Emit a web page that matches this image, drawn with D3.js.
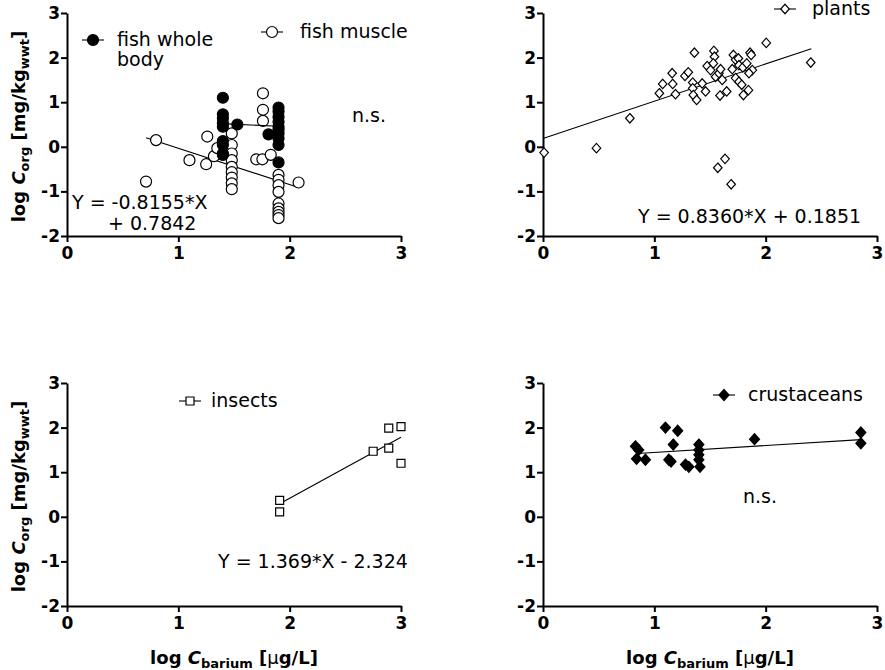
<!DOCTYPE html>
<html>
<head>
<meta charset="utf-8">
<script src="https://cdn.jsdelivr.net/npm/d3@7"></script>
<style>
  body { margin: 0; background: #fff; }
  svg { display: block; font-family: "DejaVu Sans", Verdana, sans-serif; }
</style>
</head>
<body>
<div id="chart"></div>
<script>
// ticks shared by all four panels
var xTicks = [0, 1, 2, 3];
var yTicks = [-2, -1, 0, 1, 2, 3];

// fish whole body (filled circles), [log Cbarium, log Corg]
var fishWhole = [
  [1.40, 1.10], [1.40, 0.73], [1.40, 0.64], [1.40, 0.53], [1.40, 0.45],
  [1.40, 0.13], [1.40, 0.04], [1.40, -0.15], [1.40, -0.18], [1.53, 0.50],
  [1.81, 0.28], [1.90, 0.88], [1.90, 0.79], [1.90, 0.67], [1.90, 0.56],
  [1.90, 0.45], [1.90, 0.38], [1.90, 0.30], [1.90, 0.19], [1.90, 0.04],
  [1.90, -0.35]
];
var fishWholeFit = [[1.40, 0.52], [1.90, 0.46]];

// fish muscle (open circles)
var fishMuscle = [
  [0.71, -0.78], [0.80, 0.15], [1.10, -0.30], [1.25, -0.39], [1.26, 0.23],
  [1.32, -0.21], [1.35, -0.03], [1.48, 0.30], [1.48, 0.04], [1.48, -0.15],
  [1.48, -0.30], [1.48, -0.45], [1.48, -0.57], [1.48, -0.69], [1.48, -0.82],
  [1.48, -0.95], [1.76, 1.20], [1.76, 0.83], [1.76, 0.58], [1.70, -0.28],
  [1.755, -0.28], [1.83, -0.18], [1.90, -0.63], [1.90, -0.74], [1.90, -0.86],
  [1.90, -1.01], [1.90, -1.27], [1.90, -1.38], [1.90, -1.46], [1.90, -1.53],
  [1.90, -1.60], [2.08, -0.80]
];
var fishMuscleFit = [[0.71, 0.205], [2.08, -0.912]];

// plants (open diamonds)
var plants = [
  [0.01, -0.13], [0.48, -0.03], [0.78, 0.64], [1.045, 1.20], [1.075, 1.41],
  [1.16, 1.65], [1.165, 1.41], [1.19, 1.18], [1.275, 1.59], [1.305, 1.67],
  [1.36, 2.11], [1.345, 1.44], [1.345, 1.31], [1.35, 1.16], [1.38, 1.05],
  [1.43, 1.42], [1.46, 1.24], [1.475, 1.81], [1.505, 1.72], [1.535, 2.15],
  [1.54, 2.02], [1.53, 1.87], [1.55, 1.57], [1.58, 1.65], [1.595, 1.74],
  [1.61, 1.50], [1.59, 1.15], [1.65, 1.24], [1.635, -0.27], [1.57, -0.47],
  [1.69, -0.84], [1.71, 2.06], [1.70, 1.74], [1.73, 1.95], [1.755, 1.98],
  [1.76, 1.83], [1.73, 1.54], [1.76, 1.46], [1.785, 1.39], [1.80, 1.16],
  [1.845, 1.27], [1.795, 1.78], [1.83, 1.87], [1.86, 2.11], [1.87, 2.06],
  [1.88, 1.72], [1.85, 1.65], [2.005, 2.33], [2.405, 1.89]
];
var plantsFit = [[0, 0.1851], [2.41, 2.2]];

// insects (open squares)
var insects = [
  [1.91, 0.37], [1.91, 0.11], [2.75, 1.47], [2.89, 1.54], [2.89, 1.99],
  [3.0, 2.02], [3.0, 1.20]
];
var insectsFit = [[1.91, 0.291], [3.0, 1.783]];

// crustaceans (filled diamonds)
var crustaceans = [
  [0.83, 1.58], [0.86, 1.50], [0.84, 1.30], [0.92, 1.28], [1.10, 2.00],
  [1.21, 1.93], [1.17, 1.62], [1.13, 1.28], [1.15, 1.24], [1.28, 1.17],
  [1.31, 1.12], [1.40, 1.62], [1.40, 1.50], [1.40, 1.39], [1.40, 1.28],
  [1.41, 1.12], [1.90, 1.74], [2.855, 1.89], [2.855, 1.65]
];
var crustaceansFit = [[0.85, 1.42], [2.855, 1.73]];

var W = 885, H = 670;
var svg = d3.select("#chart").append("svg").attr("width", W).attr("height", H);

var cols = [67, 543], rows = [13, 383];
var pw = 334, ph = 223;
var fmt = function (d) { return String(d); };

function drawMarker(g, shape, filled, r) {
  var fill = filled ? "#000" : "#fff";
  if (shape === "circle") {
    return g.append("circle").attr("r", r).attr("fill", fill);
  }
  var s = shape === "diamond" ? d3.symbolDiamond2 : d3.symbolSquare2;
  return g.append("path").attr("d", d3.symbol(s, r * r * 4)()).attr("fill", fill)
    .attr("transform", shape === "diamond" ? "scale(0.95,1.05)" : null);
}

function panel(col, row, series, opts) {
  var x0 = cols[col], y0 = rows[row];
  var x = d3.scaleLinear().domain([0, 3]).range([x0, x0 + pw]);
  var y = d3.scaleLinear().domain([-2, 3]).range([y0 + ph, y0]);
  var g = svg.append("g");

  // axes
  var ax = g.append("g").attr("transform", "translate(0," + (y0 + ph) + ")")
    .call(d3.axisBottom(x).tickValues(xTicks).tickFormat(fmt).tickSize(6).tickSizeOuter(0).tickPadding(5));
  var ay = g.append("g").attr("transform", "translate(" + x0 + ",0)")
    .call(d3.axisLeft(y).tickValues(yTicks).tickFormat(fmt).tickSize(6).tickSizeOuter(0).tickPadding(1));
  [ax, ay].forEach(function (a) {
    a.select(".domain").attr("stroke", "#000").attr("stroke-width", 2);
    a.selectAll(".tick line").attr("stroke", "#000").attr("stroke-width", 2);
    a.selectAll(".tick text").attr("fill", "#000")
      .style("font-family", "DejaVu Sans").style("font-weight", "bold").style("font-size", "17px");
  });

  series.forEach(function (s) {
    // regression line
    g.append("path")
      .datum(s.fit)
      .attr("fill", "none").attr("stroke", "#000").attr("stroke-width", 1.1)
      .attr("d", d3.line().x(function (d) { return x(d[0]); }).y(function (d) { return y(d[1]); }));
    // points
    s.data.forEach(function (d) {
      var m = g.append("g").attr("transform", "translate(" + x(d[0]) + "," + y(d[1]) + ")");
      drawMarker(m, s.shape, s.filled, s.r).attr("stroke", "#000").attr("stroke-width", 1.2);
    });
    // legend entry
    var lg = svg.append("g").attr("transform", "translate(" + s.legend[0] + "," + s.legend[1] + ")");
    lg.append("line").attr("x1", -11).attr("x2", 11).attr("stroke", "#000").attr("stroke-width", 1.1);
    drawMarker(lg.append("g"), s.shape, s.filled, s.r).attr("stroke", "#000").attr("stroke-width", 1.2);
    var t = lg.append("text").attr("x", s.legendText).attr("y", 6)
      .style("font-size", "19px").attr("fill", "#000");
    s.label.forEach(function (line, i) {
      t.append("tspan").attr("x", s.legendText).attr("dy", i ? 20 : 0).text(line);
    });
  });

  (opts.notes || []).forEach(function (n) {
    svg.append("text").attr("x", n[0]).attr("y", n[1]).style("font-size", "19px")
      .attr("fill", "#000").text(n[2]);
  });

  // y-axis title
  if (col === 0) {
    var yt = svg.append("text")
      .attr("transform", "translate(25," + (y0 + ph / 2 + 2) + ") rotate(-90)")
      .attr("text-anchor", "middle").style("font-weight", "bold").style("font-size", "18px");
    yt.append("tspan").text("log ");
    yt.append("tspan").style("font-style", "italic").text("C");
    yt.append("tspan").attr("dy", 4).style("font-size", "13px").text("org");
    yt.append("tspan").attr("dy", -4).text(" [mg/kg");
    yt.append("tspan").attr("dy", 4).style("font-size", "13px").text("wwt");
    yt.append("tspan").attr("dy", -4).text("]");
  }
  // x-axis title
  if (row === 1) {
    var xt = svg.append("text")
      .attr("x", x0 + pw / 2).attr("y", 664)
      .attr("text-anchor", "middle").style("font-weight", "bold").style("font-size", "18px");
    xt.append("tspan").text("log ");
    xt.append("tspan").style("font-style", "italic").text("C");
    xt.append("tspan").attr("dy", 4).style("font-size", "13px").text("barium");
    xt.append("tspan").attr("dy", -4).text(" [");
    xt.append("tspan").style("font-weight", "normal").text("\u03bc");
    xt.append("tspan").text("g/L]");
  }
}

panel(0, 0, [
  { data: fishMuscle, fit: fishMuscleFit, shape: "circle", filled: false, r: 5.5,
    legend: [272, 32], legendText: 28, label: ["fish muscle"] },
  { data: fishWhole, fit: fishWholeFit, shape: "circle", filled: true, r: 5.5,
    legend: [93, 40], legendText: 24, label: ["fish whole", "body"] }
], { notes: [[352, 122, "n.s."], [72, 209, "Y = -0.8155*X"], [108, 230, "+ 0.7842"]] });

panel(1, 0, [
  { data: plants, fit: plantsFit, shape: "diamond", filled: false, r: 3.6,
    legend: [785, 9], legendText: 27, label: ["plants"] }
], { notes: [[638, 223, "Y = 0.8360*X + 0.1851"]] });

panel(0, 1, [
  { data: insects, fit: insectsFit, shape: "square", filled: false, r: 4.5,
    legend: [190, 401], legendText: 21, label: ["insects"] }
], { notes: [[218, 568, "Y = 1.369*X - 2.324"]] });

panel(1, 1, [
  { data: crustaceans, fit: crustaceansFit, shape: "diamond", filled: true, r: 4.2,
    legend: [724, 395], legendText: 24, label: ["crustaceans"] }
], { notes: [[743, 503, "n.s."]] });
</script>
</body>
</html>
